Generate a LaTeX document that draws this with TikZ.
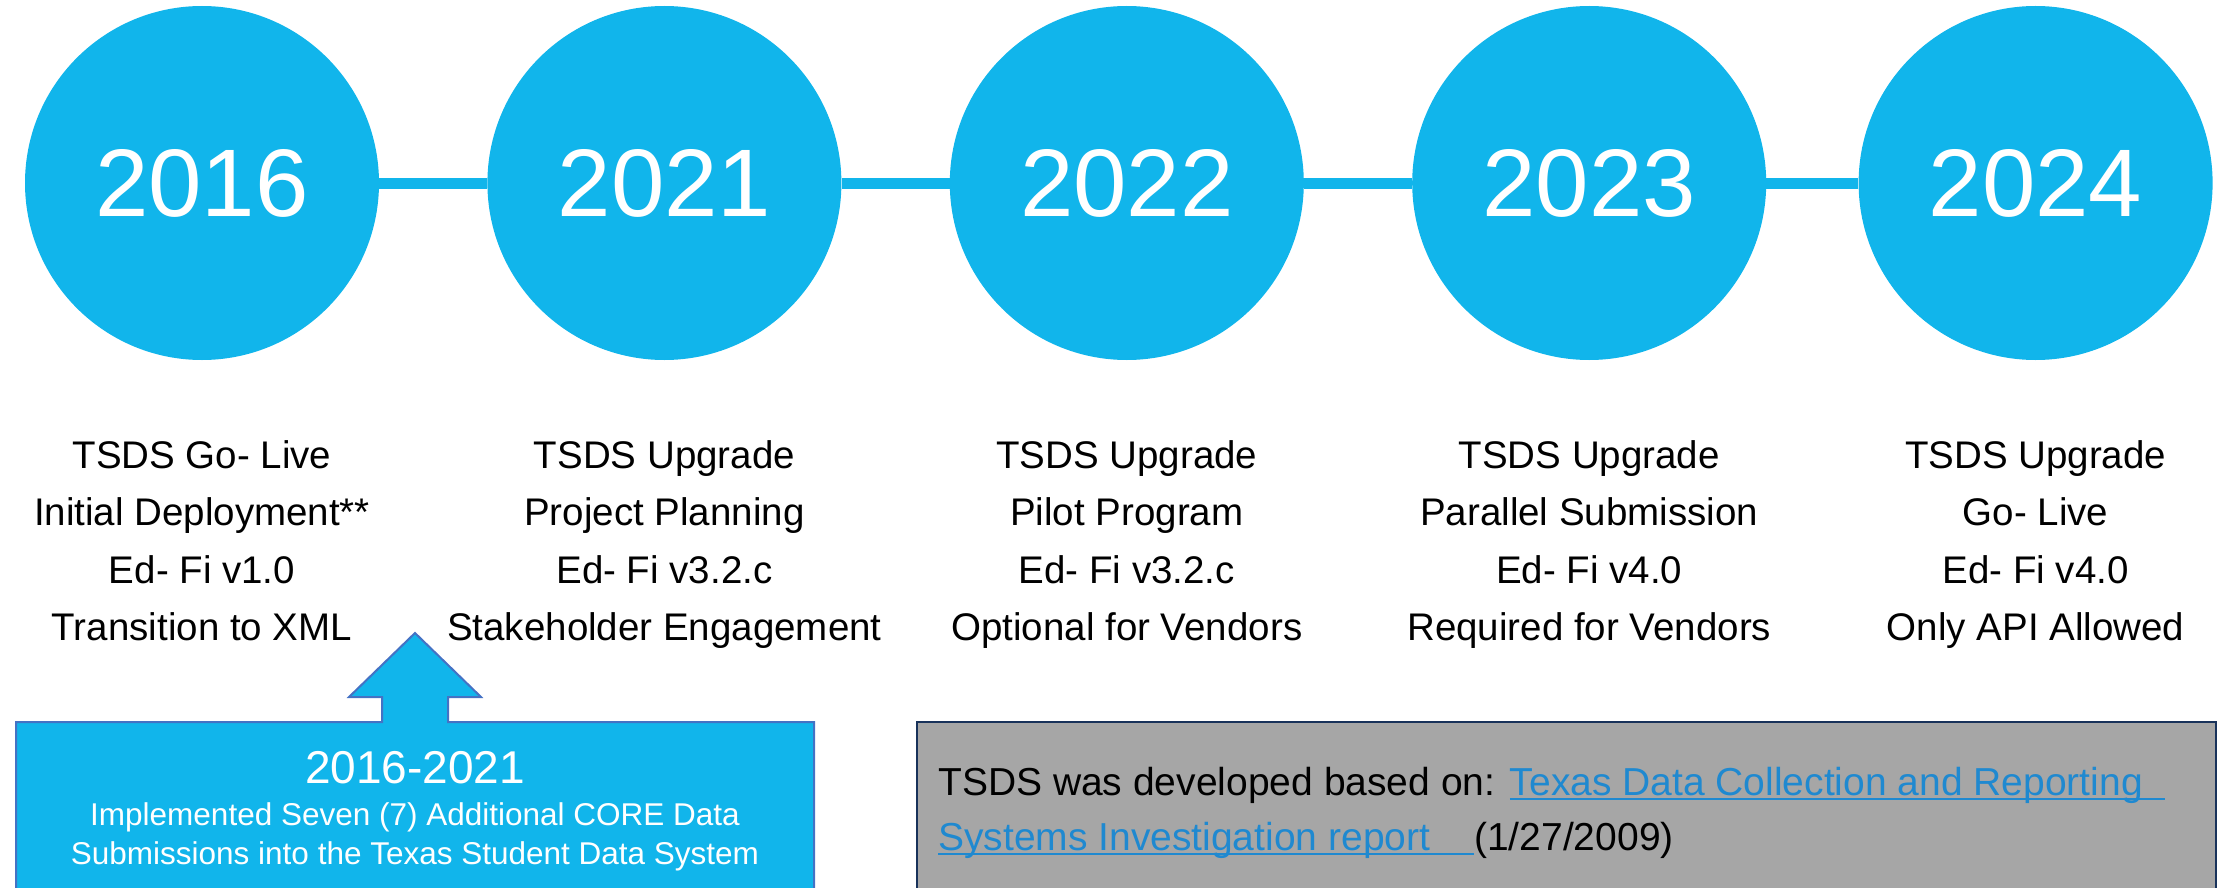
\documentclass[tikz,border=0pt]{standalone}
\usepackage{fontspec}
\setmainfont{Liberation Sans}
\usetikzlibrary{positioning}
\definecolor{tsdsblue}{RGB}{17,181,235}
\definecolor{calloutline}{RGB}{68,114,196}
\definecolor{notegray}{RGB}{166,166,166}
\definecolor{noteline}{RGB}{24,50,90}
\definecolor{linkblue}{RGB}{31,137,208}
\tikzstyle{year} = [circle, fill=tsdsblue, minimum size=354pt, inner sep=0pt,
text=white, font=\fontsize{96}{110}\selectfont]
\tikzstyle{milestone} = [align=center, inner sep=0pt, font=\fontsize{38.5}{57.5}\selectfont]
\tikzstyle{rail} = [draw=tsdsblue, line width=11pt]
\newsavebox{\linkbox}
\newcommand{\reflink}[2]{\sbox{\linkbox}{\color{linkblue}#1}%
{\color{linkblue}\rlap{\rule[-5pt]{\dimexpr\wd\linkbox+#2\relax}{2pt}}}\usebox{\linkbox}\hspace{#2}}

\begin{document}
\begin{tikzpicture}[x=1pt, y=-1pt,
	span/.style={text=white, inner sep=0pt}]
    \useasboundingbox (0,0) rectangle (2218,888);
    \clip (0,0) rectangle (2218,888);
    \node [year] (y2016) at (202,183) {2016};
    \node [year, right=108pt of y2016] (y2021) {2021};
    \node [year, right=108pt of y2021] (y2022) {2022};
    \node [year, right=108pt of y2022] (y2023) {2023};
    \node [year, right=92pt of y2023] (y2024) {2024};
    %% Rails
    \path [rail] (y2016) -- (y2021);
    \path [rail] (y2021) -- (y2022);
    \path [rail] (y2022) -- (y2023);
    \path [rail] (y2023) -- (y2024);
    %% Milestones
    \node [milestone, below=80pt of y2016] (m2016) {TSDS Go- Live\\Initial Deployment**\\Ed- Fi v1.0\\Transition to XML};
    \node [milestone, below=80pt of y2021] (m2021) {TSDS Upgrade\\Project Planning\\Ed- Fi v3.2.c\\Stakeholder Engagement};
    \node [milestone, below=80pt of y2022] (m2022) {TSDS Upgrade\\Pilot Program\\Ed- Fi v3.2.c\\Optional for Vendors};
    \node [milestone, below=80pt of y2023] (m2023) {TSDS Upgrade\\Parallel Submission\\Ed- Fi v4.0\\Required for Vendors};
    \node [milestone, below=80pt of y2024] (m2024) {TSDS Upgrade\\Go- Live\\Ed- Fi v4.0\\Only API Allowed};
    %% Callout
    \draw [fill=tsdsblue, draw=calloutline, line width=2pt] (16,895) -- (16,722) -- (382,722)
      -- (382,697) -- (349,697) -- (415,633) -- (481,697) -- (448,697) -- (448,722)
      -- (814,722) -- (814,895) -- cycle;
    \node [span, anchor=base, font=\fontsize{46}{50}\selectfont] (span) at (415,783) {2016-2021};
    \node [span, align=center, below=19pt of span, font=\fontsize{31.5}{39}\selectfont] (spannote)
      {Implemented Seven (7) Additional CORE Data\\Submissions into the Texas Student Data System};
    %% Note
    \draw [fill=notegray, draw=noteline, line width=2.5pt] (917,895) rectangle (2216,722);
    \node [anchor=north west, align=left, inner sep=0pt, font=\fontsize{39}{55}\selectfont] (note) at (938,767)
      {TSDS was developed based on: \reflink{Texas Data Collection and Reporting}{22pt}\\\reflink{Systems Investigation report}{44pt}(1/27/2009)};
\end{tikzpicture}
\end{document}
